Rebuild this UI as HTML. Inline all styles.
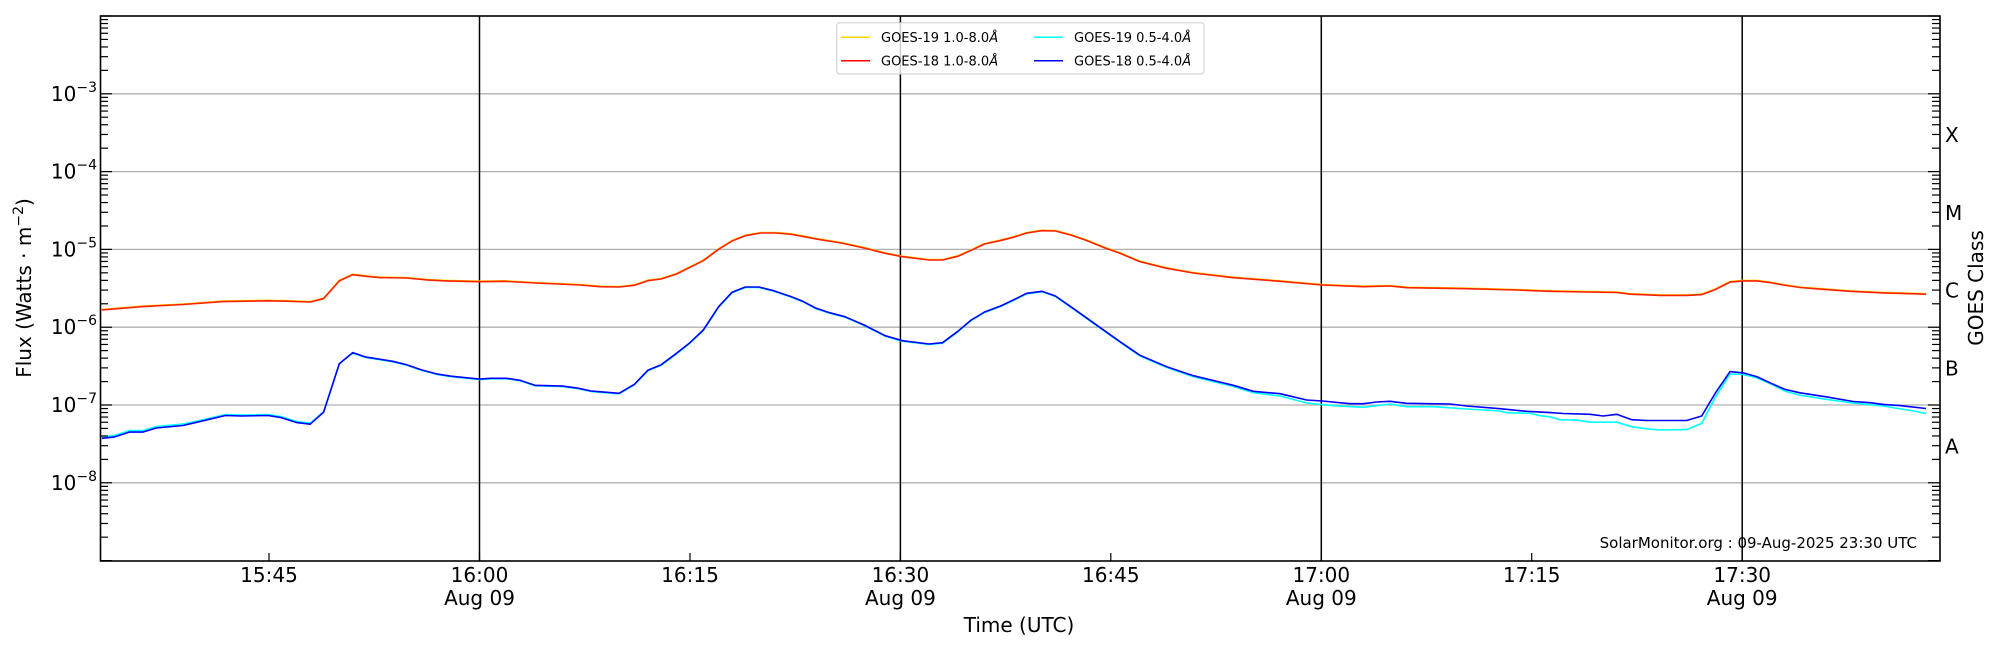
<!DOCTYPE html>
<html><head><meta charset="utf-8"><style>
html,body{margin:0;padding:0;background:#fff;}
svg{display:block;font-family:"DejaVu Sans","Liberation Sans",sans-serif;}
</style></head><body>
<svg id="s" width="2000" height="650" viewBox="0 0 2000 650" xmlns="http://www.w3.org/2000/svg">
<rect width="2000" height="650" fill="#fff"/>
<g id="grid" stroke="#b0b0b0" stroke-width="1.3"></g>
<g stroke="#000" stroke-width="1.5">
<line x1="479.5" y1="16" x2="479.5" y2="561"/>
<line x1="900.4" y1="16" x2="900.4" y2="561"/>
<line x1="1321.3" y1="16" x2="1321.3" y2="561"/>
<line x1="1742.2" y1="16" x2="1742.2" y2="561"/>
</g>
<g fill="none" stroke-width="1.6" stroke-linejoin="round">
<polyline stroke="#ffd700" points="101.8,309.4 142.8,306.1 183,304 223.2,301.1 267.8,300.3 285.7,300.7 310.2,301.5 323.6,298.2 339.3,280.4 352.7,274.2 366,275.8 379.4,277.1 406.2,277.5 428.5,279.6 446.4,280.4 479.4,281.2 504.4,280.8 535.7,282.5 580.3,284.5 600,286.2 619.1,286.5 634.4,284.8 647.8,280.2 661.2,278.5 676.5,273.5 689.9,266.8 703.3,260.2 718.6,248.8 732,240.5 745.4,235.2 760.7,232.5 776,232.5 791.4,233.8 818.1,238.8 841.1,242.5 864.1,247.5 885.1,252.8 902.3,256.2 929.1,259.5 942.5,259.5 957.8,255.8 971.2,249.8 984.6,243.5 999.9,240.2 1013.3,236.8 1026.7,232.5 1042,230.2 1055.4,230.5 1070.7,234.5 1086,239.8 1105.1,247.5 1120,252.8 1140,261.2 1166.7,267.8 1193.3,272.5 1233.3,277.2 1280,280.8 1322.3,284.5 1363.3,286.2 1390,285.5 1406.7,287.2 1466.7,288.2 1516.7,289.5 1550,290.8 1616.7,292 1630,293.7 1660,294.9 1686.7,294.9 1701.7,294.1 1715,289.1 1730,281.6 1743.3,280.4 1756.7,280.4 1770,282.1 1783.3,284.5 1800,287 1816.7,288.3 1850,290.8 1883.3,292.4 1926,293.7"/>
<polyline stroke="#ff2000" points="101.8,309.9 142.8,306.6 183,304.5 223.2,301.6 267.8,300.8 285.7,301.2 310.2,302 323.6,298.7 339.3,280.9 352.7,274.7 366,276.3 379.4,277.6 406.2,278 428.5,280.1 446.4,280.9 479.4,281.7 504.4,281.3 535.7,283 580.3,285 600,286.7 619.1,287 634.4,285.3 647.8,280.7 661.2,279 676.5,274 689.9,267.3 703.3,260.7 718.6,249.3 732,241 745.4,235.7 760.7,233 776,233 791.4,234.3 818.1,239.3 841.1,243 864.1,248 885.1,253.3 902.3,256.7 929.1,260 942.5,260 957.8,256.3 971.2,250.3 984.6,244 999.9,240.7 1013.3,237.3 1026.7,233 1042,230.7 1055.4,231 1070.7,235 1086,240.3 1105.1,248 1120,253.3 1140,261.7 1166.7,268.3 1193.3,273 1233.3,277.7 1280,281.3 1322.3,285 1363.3,286.7 1390,286 1406.7,287.7 1466.7,288.7 1516.7,290 1550,291.3 1616.7,292.5 1630,294.2 1660,295.4 1686.7,295.4 1701.7,294.6 1715,289.6 1730,282.1 1743.3,280.9 1756.7,280.9 1770,282.6 1783.3,285 1800,287.5 1816.7,288.8 1850,291.3 1883.3,292.9 1926,294.2"/>
<polyline stroke="#00ffff" points="101.8,436.8 113.8,435.6 129.5,430.6 142.8,430.6 156.2,426.5 183,424 200.9,420.3 225.4,414.5 241.1,415 267.8,414.5 281.2,416.6 296.9,421.6 310.2,423.2 323.6,411.7 339.3,363.8 352.7,353.1 366,357.6 392.8,361.8 406.2,365.1 421.9,370.5 437.5,374.6 450.9,376.7 479.4,379.6 491,378.8 506.7,378.8 520,380.8 534.8,385.8 562.5,386.6 578.1,388.7 591.5,391.6 619.1,393.8 634.4,384.8 647.8,370.8 661.2,365.2 676.5,353.8 689.9,343.2 703.3,330.5 718.6,307.2 732,292.8 745.4,287.5 758.8,287.5 772.2,290.8 791.4,297.2 802.8,301.8 816.2,308.8 829.6,313.2 844.9,317.2 864.1,325.5 885.1,336.2 902.3,341.2 929.1,344.5 942.5,343.2 957.8,331.8 971.2,320.5 984.6,312.5 999.9,306.8 1013.3,300.5 1026.7,293.8 1042,291.8 1055.4,296.5 1074.5,309.8 1097.5,326.2 1120,342.2 1140,356 1166.7,367.5 1193.3,376.7 1233.3,386.5 1253.3,392.7 1280,396 1306.7,403 1333.3,405.7 1363.3,407.3 1390,404 1406.7,406.7 1433.3,406.7 1466.7,409 1500,411 1506.7,412.7 1530,413.3 1540,415.7 1550,416.8 1560,419.7 1576.7,420.1 1590,422.2 1616.7,422.2 1631.7,426.7 1646.7,428.8 1660,430 1686.7,429.6 1701.7,423.4 1715,397.7 1730,374.1 1743.3,374.5 1756.7,377.8 1770,383.6 1785,391.1 1800,395.2 1826.7,399.4 1853.3,403.1 1883.3,406 1913.3,411 1926,413.5"/>
<polyline stroke="#0000ff" points="101.8,438.3 113.8,437.1 129.5,432.1 142.8,432.1 156.2,428 183,425.5 200.9,421.3 225.4,415.5 241.1,416 267.8,415.5 281.2,417.6 296.9,422.6 310.2,424.2 323.6,412.2 339.3,363.8 352.7,352.6 366,357.1 392.8,361.3 406.2,364.6 421.9,370 437.5,374.1 450.9,376.2 479.4,379.1 491,378.3 506.7,378.3 520,380.3 534.8,385.3 562.5,386.1 578.1,388.2 591.5,391.1 619.1,393.3 634.4,384.3 647.8,370.3 661.2,364.7 676.5,353.3 689.9,342.7 703.3,330 718.6,306.7 732,292.3 745.4,287 758.8,287 772.2,290.3 791.4,296.7 802.8,301.3 816.2,308.3 829.6,312.7 844.9,316.7 864.1,325 885.1,335.7 902.3,340.7 929.1,344 942.5,342.7 957.8,331.3 971.2,320 984.6,312 999.9,306.3 1013.3,300 1026.7,293.3 1042,291.3 1055.4,296 1074.5,309.3 1097.5,325.7 1120,341.7 1140,355.3 1166.7,366.7 1193.3,375.7 1233.3,385.3 1253.3,391.3 1280,393.7 1306.7,400 1322.3,401 1350,403.7 1363.3,403.7 1376.7,402 1390,401.3 1406.7,403.3 1450,404 1466.7,406 1500,408.7 1526.7,411.3 1550,412.6 1563.3,413.5 1590,414.3 1603.3,416 1616.7,414.3 1631.7,419.7 1646.7,420.5 1686.7,420.5 1701.7,416 1715,393.6 1730,371.6 1743.3,372.9 1756.7,376.6 1770,382.8 1785,389.4 1800,392.8 1826.7,396.9 1853.3,401.5 1870,402.7 1883.3,404.4 1900,405.6 1926,408.5"/>
</g>
<g id="ticks" stroke="#000" stroke-width="1.2"></g>
<rect x="100.5" y="16" width="1839.5" height="545" fill="none" stroke="#000" stroke-width="1.6"/>
<!-- legend -->
<rect x="836.7" y="22.7" width="367.3" height="51.3" rx="3" fill="#fff" fill-opacity="0.8" stroke="#ccc" stroke-width="1"/>
<g stroke-width="1.5">
<line x1="841" y1="37.3" x2="870" y2="37.3" stroke="#ffd700"/>
<line x1="841" y1="60.7" x2="870" y2="60.7" stroke="#ff0000"/>
<line x1="1034" y1="37.3" x2="1063" y2="37.3" stroke="#00ffff"/>
<line x1="1034" y1="60.7" x2="1063" y2="60.7" stroke="#0000ff"/>
</g>
<g font-size="13" fill="#000">
<text x="881" y="42">GOES-19 1.0-8.0<tspan font-style="italic">Å</tspan></text>
<text x="881" y="65.5">GOES-18 1.0-8.0<tspan font-style="italic">Å</tspan></text>
<text x="1074" y="42">GOES-19 0.5-4.0<tspan font-style="italic">Å</tspan></text>
<text x="1074" y="65.5">GOES-18 0.5-4.0<tspan font-style="italic">Å</tspan></text>
</g>
<!-- y labels -->
<g id="ylab" font-size="20" fill="#000" text-anchor="end"></g>
<text transform="translate(31,288) rotate(-90)" font-size="20" text-anchor="middle">Flux (Watts · m<tspan font-size="14" dy="-8">−2</tspan><tspan dy="8">)</tspan></text>
<!-- right labels -->
<g font-size="20" fill="#000">
<text x="1945" y="142">X</text>
<text x="1945" y="220">M</text>
<text x="1945" y="297.5">C</text>
<text x="1945" y="375.5">B</text>
<text x="1945" y="453.5">A</text>
</g>
<text transform="translate(1983,288) rotate(-90)" font-size="20" text-anchor="middle">GOES Class</text>
<!-- x labels -->
<g font-size="20" fill="#000" text-anchor="middle">
<text x="269" y="582">15:45</text>
<text x="479.5" y="582">16:00</text><text x="479.5" y="605">Aug 09</text>
<text x="690" y="582">16:15</text>
<text x="900.4" y="582">16:30</text><text x="900.4" y="605">Aug 09</text>
<text x="1110.8" y="582">16:45</text>
<text x="1321.3" y="582">17:00</text><text x="1321.3" y="605">Aug 09</text>
<text x="1531.7" y="582">17:15</text>
<text x="1742.2" y="582">17:30</text><text x="1742.2" y="605">Aug 09</text>
<text x="1019" y="632">Time (UTC)</text>
</g>
<text x="1917" y="548" font-size="15" text-anchor="end">SolarMonitor.org : 09-Aug-2025 23:30 UTC</text>
<script>
var NS="http://www.w3.org/2000/svg";
function el(p,t,a,txt){var e=document.createElementNS(NS,t);for(var k in a)e.setAttribute(k,a[k]);if(txt)e.textContent=txt;p.appendChild(e);return e;}
var g=document.getElementById('grid'),tk=document.getElementById('ticks'),yl=document.getElementById('ylab');
function Y(n){return 16+(n-2)*77.8;}
for(var n=3;n<=8;n++){var y=Y(n);el(g,'line',{x1:100,y1:y,x2:1940,y2:y});
var t=el(yl,'text',{x:97,y:y+7});t.appendChild(document.createTextNode('10'));
var s=document.createElementNS(NS,'tspan');s.setAttribute('font-size','14');s.setAttribute('dy','-9');s.textContent='−'+n;t.appendChild(s);}
for(var n=2;n<=9;n++){var y=Y(n);
el(tk,'line',{x1:100,y1:y,x2:112,y2:y});el(tk,'line',{x1:1940,y1:y,x2:1928,y2:y});
if(n<9){for(var k=2;k<=9;k++){var yy=Y(n+1)-Math.log10(k)*77.8;
el(tk,'line',{x1:100,y1:yy,x2:108,y2:yy});el(tk,'line',{x1:1940,y1:yy,x2:1932,y2:yy});}}}
[269,479.5,690,900.4,1110.8,1321.3,1531.7,1742.2].forEach(function(x){el(tk,'line',{x1:x,y1:561,x2:x,y2:553});});
</script>
</svg>
</body></html>
